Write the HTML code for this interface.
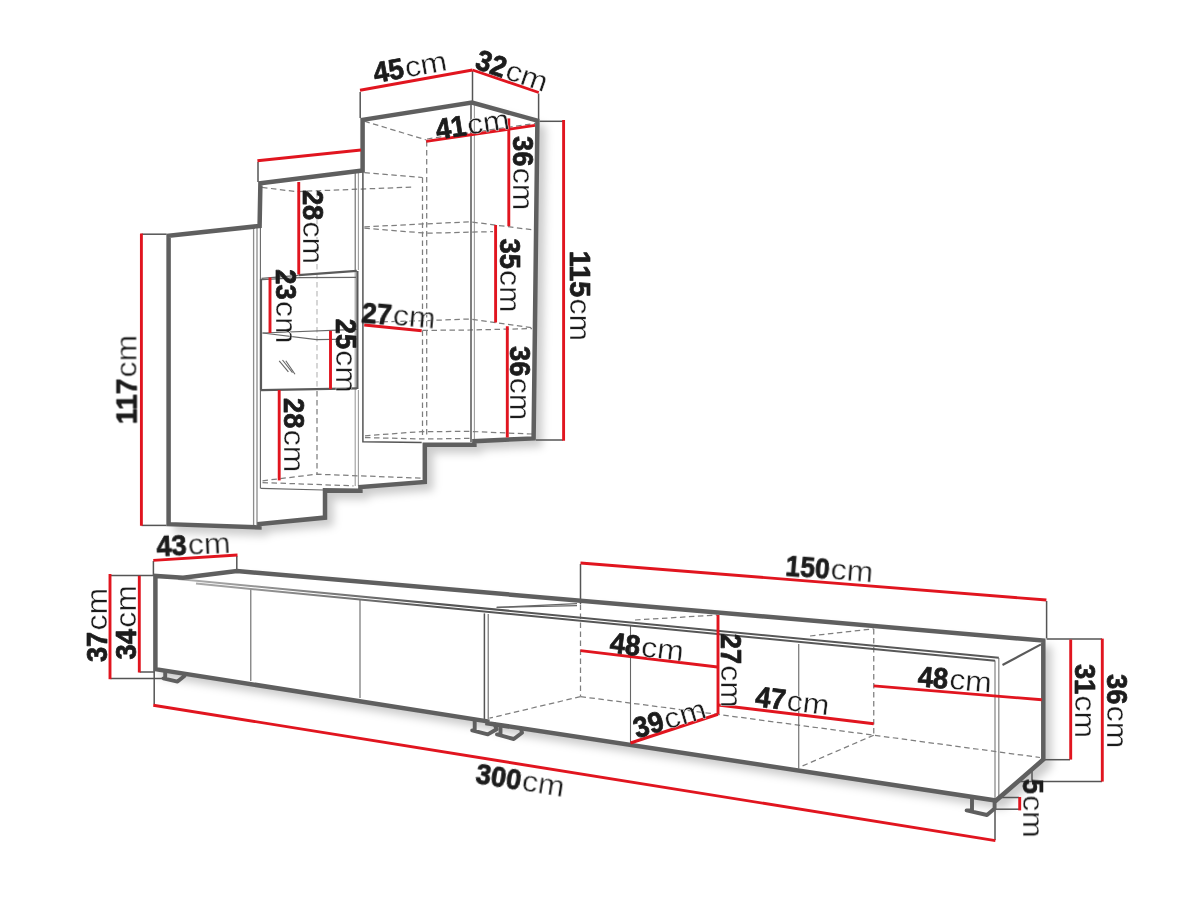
<!DOCTYPE html>
<html lang="en">
<head>
<meta charset="utf-8">
<title>Wall unit dimensions</title>
<style>
html,body{margin:0;padding:0;background:#fff;}
body{width:1200px;height:899px;overflow:hidden;}
svg{display:block;}
text{font-family:"Liberation Sans",sans-serif;fill:#1c1c1c;}
.text{filter:grayscale(1);}
.n{font-weight:bold;stroke:#1c1c1c;stroke-width:0.75;stroke-linejoin:round;}
.u{font-weight:normal;stroke:#fff;stroke-width:0.35;}
path{fill:none;}
.shadow{filter:url(#ds);}
.shadow .sh{fill:#fff;stroke:#fff;stroke-width:3;}
.shadow .ft{fill:#fff;stroke:#fff;stroke-width:3;}
.thick path{stroke:#5f5f5f;stroke-width:4.5;stroke-linejoin:miter;}
.mid path{stroke:#5f5f5f;stroke-width:3.9;stroke-linejoin:round;stroke-linecap:round;fill:none;}
.thin path{stroke:#666666;stroke-width:1.1;}
.tick path{stroke:#555;stroke-width:1.5;}
.med path{stroke:#8c8c8c;stroke-width:1.3;}
.door path{stroke:#5a5a5a;stroke-width:2.2;}
.edge path{stroke:url(#eg);stroke-width:2;}
.light path{stroke:#9c9c9c;stroke-width:1.1;}
.dash path{stroke:#7e7e7e;stroke-width:1.25;stroke-dasharray:5.5 3.5;}
.ldash path{stroke:#b4b4b4;stroke-width:1.1;stroke-dasharray:5.5 3.5;}
.red path{stroke:#e1151f;stroke-width:2.9;}
</style>
</head>
<body>
<svg width="1200" height="899" viewBox="0 0 1200 899">
<defs>
<filter id="ds" filterUnits="userSpaceOnUse" x="0" y="0" width="1200" height="899" color-interpolation-filters="sRGB">
<feGaussianBlur in="SourceAlpha" stdDeviation="4.5"/>
<feOffset dx="6.5" dy="6.5" result="b"/>
<feFlood flood-color="#000" flood-opacity="0.2"/>
<feComposite in2="b" operator="in"/>
<feMerge><feMergeNode/><feMergeNode in="SourceGraphic"/></feMerge>
</filter>
<linearGradient id="eg" gradientUnits="userSpaceOnUse" x1="178" y1="0" x2="1000" y2="0">
<stop offset="0" stop-color="#b0b0b0"/><stop offset="0.18" stop-color="#7c7c7c"/><stop offset="0.32" stop-color="#555"/><stop offset="1" stop-color="#585858"/>
</linearGradient>
</defs>
<rect width="1200" height="899" fill="#fff"/>
<g class="shadow">
<path class="sh" d="M168.6 524.2 L168.6 235.8 L259.6 226 L260.4 183.2 L362.6 170.6 L362.6 119.8 L472 102.6 L537.4 120.6 L533.6 438.4 L474.4 441.2 L474.4 444.8 L424.8 444.8 L424.8 482 L360.4 487 L360.4 490.8 L325 490.4 L325 517.6 L259.4 524 L259.4 527.4 Z"/>
<path class="sh" d="M155.4 669.1 L155.4 576 L183 577.8 L237 571 L1043.3 640.6 L1043.3 759.5 L996 800.5 L487.4 723.2 L487.4 721.4 Z"/>
</g>
<g class="light">
<path d="M358.4 172 L358.4 270"/>
<path d="M355.2 270 L355.2 486"/>
<path d="M358.4 390 L358.4 486"/>
<path d="M474.4 104 L474.4 442"/>
</g>
<g class="med">
<path d="M253.6 227.5 L253.6 525"/>
<path d="M257 227.5 L257 525"/>
<path d="M998.8 658 L998.8 799"/>
<path d="M995 660.6 L995 799"/>
</g>
<g class="dash">
<path d="M262 187.4 L296 191.6 L414 187"/>
<path d="M317 391 L317 474"/>
<path d="M262.5 480.8 L316.7 474.2 L421.7 478.2"/>
<path d="M262.5 482.6 L353.5 485.8"/>
<path d="M364.4 121.2 L426.4 140"/>
<path d="M427 139 L535 123.4"/>
<path d="M426.7 141 L426.7 438"/>
<path d="M422.5 177.5 L422.5 438"/>
<path d="M364.4 172.6 L422.5 177.5"/>
<path d="M364.4 226.8 L470 221.8 L534 230"/>
<path d="M364.4 228.2 L426.7 233.2 L493 231.6"/>
<path d="M364.4 322.4 L426 320.6 L470 319 L534 328"/>
<path d="M422.5 330.4 L470 330 L532 328.6"/>
<path d="M365 435.8 L421.7 431.6 L470 431.4 L532 434"/>
<path d="M365 437.6 L426 439 L470 438.4"/>
<path d="M580.5 604.5 L580.5 696.5"/>
<path d="M580.5 696.6 L489.4 718.2"/>
<path d="M580.5 696.6 L718 714.4 L873.75 735.2 L1040 757.5"/>
<path d="M635 620 L717.5 615"/>
<path d="M810 636 L873.75 628.75"/>
<path d="M873.75 629 L873.75 735"/>
<path d="M873.75 735.2 L800 767"/>
</g>
<g class="ldash">
<path d="M317 192 L317 390"/>
</g>
<g class="thin">
<path d="M260.4 226 L260.4 488.5"/>
<path d="M355.2 172 L355.2 270"/>
<path d="M261.5 278.4 L298.5 275.4"/>
<path d="M262 279.6 L300 277.6 L356 277.4"/>
<path d="M262.5 333 L357 329.4"/>
<path d="M262.5 333 L316.7 339.6 L357 339"/>
<path d="M260.8 488.4 L323.5 490"/>
<path d="M279.2 360.8 L288.4 371.8"/>
<path d="M282.5 360 L292.5 372.6"/>
<path d="M285.8 360.8 L295 374.2"/>
<path d="M250.8 589 L250.8 681"/>
<path d="M360 600 L360 698"/>
<path d="M488.2 614 L488.2 719"/>
<path d="M630.5 626 L630.5 743"/>
<path d="M798.75 644 L798.75 768.5"/>
<path d="M496.7 607.4 L577 603.6"/>
<path d="M496.7 607.4 L577 605.6"/>
</g>
<g class="edge">
<path d="M178 579 L998.8 657.8"/>
<path d="M196 583.6 L995 660.8"/>
</g>
<g class="tick">
<path d="M362.9 171 L362.9 441.8 L421.7 442.6"/>
<path d="M471 104 L471 442"/>
<path d="M360.2 92 L360.2 118"/>
<path d="M472.5 71 L472.5 101"/>
<path d="M538.6 93.5 L538.6 119"/>
<path d="M258 162 L258 182"/>
<path d="M141.5 234.2 L166.5 234.2"/>
<path d="M141.5 525.4 L166.5 525.4"/>
<path d="M539.5 121.3 L563 121.3"/>
<path d="M536 440 L563 440"/>
<path d="M484.4 613.4 L484.4 719"/>
<path d="M153.4 561 L153.4 575"/>
<path d="M236.8 556 L236.8 570"/>
<path d="M110.5 575.4 L154 575.4"/>
<path d="M139.6 672 L154 672"/>
<path d="M110.5 678.4 L162.6 678.4"/>
<path d="M154.2 671 L154.2 704.4"/>
<path d="M580.5 564 L580.5 604"/>
<path d="M1046.6 601 L1046.6 638.4"/>
<path d="M1046.6 639 L1102 639"/>
<path d="M1044 759.7 L1070 759.7"/>
<path d="M1016 781.4 L1102 781.4"/>
<path d="M1032 770 L1032 781"/>
<path d="M999.5 797.5 L1019 797.5"/>
<path d="M995 809.2 L1019 809.2"/>
<path d="M995 803 L995 840"/>
</g>
<g class="door">
<path d="M357.4 271 L357.4 389"/>
<path d="M298.5 275.2 L356.8 270.9"/>
<path d="M260.6 390.2 L357 388.4"/>
<path d="M261 279 L261 390"/>
<path d="M1002.5 665 L1041 644.4"/>
</g>
<g class="mid">
<path d="M165.2 671 L165.2 678.2 L163.4 678.4 L177.5 681.6 L184.4 676 L183.6 674"/>
<path d="M474.7 721 L474.7 730.2 L472.2 730.4 L487.8 734.4 L496.6 729.2 L494.6 724.2"/>
<path d="M500.5 727 L500.5 734.2 L497 734.4 L513.8 739 L522 732.8 L521 728.4"/>
<path d="M972 798 L972 810.2 L966.6 810.4 L987 815 L994.6 808.6 L994.6 801.5"/>
</g>
<g class="thick">
<path d="M168.6 524.2 L168.6 235.8 L259.6 226 L260.4 183.2 L362.6 170.6 L362.6 119.8 L472 102.6 L537.4 120.6 L533.6 438.4 L474.4 441.2 L474.4 444.8 L424.8 444.8 L424.8 482 L360.4 487 L360.4 490.8 L325 490.4 L325 517.6 L259.4 524 L259.4 527.4 Z"/>
<path d="M155.4 669.1 L155.4 576 L183 577.8 L237 571 L1043.3 640.6 L1043.3 759.5 L996 800.5 L487.4 723.2 L487.4 721.4 Z"/>
</g>
<g class="red">
<path d="M360 90.2 L472.5 70"/>
<path d="M472.5 70 L538.75 92.5"/>
<path d="M257.4 160.8 L361 150"/>
<path d="M426.25 141.4 L535 125.4"/>
<path d="M508.8 118.4 L508.8 226.25"/>
<path d="M563.6 120 L563.6 440.8"/>
<path d="M298.75 182 L298.75 274.4"/>
<path d="M270 277.5 L270 333"/>
<path d="M330.5 330.8 L330.5 389.2"/>
<path d="M279.2 390 L279.2 480.4"/>
<path d="M364.2 325 L421.7 330.8"/>
<path d="M495.6 225 L495.6 322.5"/>
<path d="M507.3 326.25 L507.3 437.5"/>
<path d="M141.4 233.4 L141.4 525.8"/>
<path d="M153.3 560.4 L237.5 555"/>
<path d="M110 574 L110 679.2"/>
<path d="M139.3 575.8 L139.3 672.5"/>
<path d="M153.3 705.2 L995.4 840.6"/>
<path d="M580.5 563 L1046.4 600"/>
<path d="M580.5 650.6 L717.5 667"/>
<path d="M718 615 L718 714"/>
<path d="M630.5 743 L718 714.25"/>
<path d="M718 705 L873.75 723.75"/>
<path d="M873.75 685.9 L1041.8 699.8"/>
<path d="M1070.7 639.6 L1070.7 759.6"/>
<path d="M1102.3 638.6 L1102.3 781.6"/>
<path d="M1019.7 797 L1019.7 810.4"/>
</g>
<g class="text">
<text transform="translate(410 66.3) rotate(-10)" x="-37.1" y="10.3"><tspan class="n" font-size="29" textLength="30.4" lengthAdjust="spacingAndGlyphs">45</tspan><tspan class="u" font-size="28.6" dx="1.2" textLength="42.6" lengthAdjust="spacingAndGlyphs">cm</tspan></text>
<text transform="translate(512.2 70.4) rotate(19)" x="-37.1" y="10.3"><tspan class="n" font-size="29" textLength="30.4" lengthAdjust="spacingAndGlyphs">32</tspan><tspan class="u" font-size="28.6" dx="1.2" textLength="42.6" lengthAdjust="spacingAndGlyphs">cm</tspan></text>
<text transform="translate(472.3 123.8) rotate(-8.5)" x="-37.1" y="10.3"><tspan class="n" font-size="29" textLength="30.4" lengthAdjust="spacingAndGlyphs">41</tspan><tspan class="u" font-size="28.6" dx="1.2" textLength="42.6" lengthAdjust="spacingAndGlyphs">cm</tspan></text>
<text transform="translate(523 173.2) rotate(90)" x="-37.1" y="10.3"><tspan class="n" font-size="29" textLength="30.4" lengthAdjust="spacingAndGlyphs">36</tspan><tspan class="u" font-size="28.6" dx="1.2" textLength="42.6" lengthAdjust="spacingAndGlyphs">cm</tspan></text>
<text transform="translate(313 227) rotate(90)" x="-37.1" y="10.3"><tspan class="n" font-size="29" textLength="30.4" lengthAdjust="spacingAndGlyphs">28</tspan><tspan class="u" font-size="28.6" dx="1.2" textLength="42.6" lengthAdjust="spacingAndGlyphs">cm</tspan></text>
<text transform="translate(286.4 306.4) rotate(90)" x="-37.1" y="10.3"><tspan class="n" font-size="29" textLength="30.4" lengthAdjust="spacingAndGlyphs">23</tspan><tspan class="u" font-size="28.6" dx="1.2" textLength="42.6" lengthAdjust="spacingAndGlyphs">cm</tspan></text>
<text transform="translate(346.2 355.8) rotate(90)" x="-37.1" y="10.3"><tspan class="n" font-size="29" textLength="30.4" lengthAdjust="spacingAndGlyphs">25</tspan><tspan class="u" font-size="28.6" dx="1.2" textLength="42.6" lengthAdjust="spacingAndGlyphs">cm</tspan></text>
<text transform="translate(398.6 315.5) rotate(5)" x="-37.1" y="10.3"><tspan class="n" font-size="29" textLength="30.4" lengthAdjust="spacingAndGlyphs">27</tspan><tspan class="u" font-size="28.6" dx="1.2" textLength="42.6" lengthAdjust="spacingAndGlyphs">cm</tspan></text>
<text transform="translate(510.3 275.6) rotate(90)" x="-37.1" y="10.3"><tspan class="n" font-size="29" textLength="30.4" lengthAdjust="spacingAndGlyphs">35</tspan><tspan class="u" font-size="28.6" dx="1.2" textLength="42.6" lengthAdjust="spacingAndGlyphs">cm</tspan></text>
<text transform="translate(520.5 383.2) rotate(90)" x="-37.1" y="10.3"><tspan class="n" font-size="29" textLength="30.4" lengthAdjust="spacingAndGlyphs">36</tspan><tspan class="u" font-size="28.6" dx="1.2" textLength="42.6" lengthAdjust="spacingAndGlyphs">cm</tspan></text>
<text transform="translate(580 296) rotate(90)" x="-45.15" y="10.3"><tspan class="n" font-size="29" textLength="46.5" lengthAdjust="spacingAndGlyphs">115</tspan><tspan class="u" font-size="28.6" dx="1.2" textLength="42.6" lengthAdjust="spacingAndGlyphs">cm</tspan></text>
<text transform="translate(126.5 379.5) rotate(-90)" x="-44.7" y="10.3"><tspan class="n" font-size="29" textLength="45.6" lengthAdjust="spacingAndGlyphs">117</tspan><tspan class="u" font-size="28.6" dx="1.2" textLength="42.6" lengthAdjust="spacingAndGlyphs">cm</tspan></text>
<text transform="translate(294.8 435.2) rotate(90)" x="-37.1" y="10.3"><tspan class="n" font-size="29" textLength="30.4" lengthAdjust="spacingAndGlyphs">28</tspan><tspan class="u" font-size="28.6" dx="1.2" textLength="42.6" lengthAdjust="spacingAndGlyphs">cm</tspan></text>
<text transform="translate(193.4 544.6) rotate(-2.5)" x="-37.1" y="10.3"><tspan class="n" font-size="29" textLength="30.4" lengthAdjust="spacingAndGlyphs">43</tspan><tspan class="u" font-size="28.6" dx="1.2" textLength="42.6" lengthAdjust="spacingAndGlyphs">cm</tspan></text>
<text transform="translate(96.2 625) rotate(-90)" x="-37.1" y="10.3"><tspan class="n" font-size="29" textLength="30.4" lengthAdjust="spacingAndGlyphs">37</tspan><tspan class="u" font-size="28.6" dx="1.2" textLength="42.6" lengthAdjust="spacingAndGlyphs">cm</tspan></text>
<text transform="translate(125.8 622.3) rotate(-90)" x="-37.1" y="10.3"><tspan class="n" font-size="29" textLength="30.4" lengthAdjust="spacingAndGlyphs">34</tspan><tspan class="u" font-size="28.6" dx="1.2" textLength="42.6" lengthAdjust="spacingAndGlyphs">cm</tspan></text>
<text transform="translate(829.6 569) rotate(4.6)" x="-43.95" y="10.3"><tspan class="n" font-size="29" textLength="44.1" lengthAdjust="spacingAndGlyphs">150</tspan><tspan class="u" font-size="28.6" dx="1.2" textLength="42.6" lengthAdjust="spacingAndGlyphs">cm</tspan></text>
<text transform="translate(647 646.6) rotate(7)" x="-37.1" y="10.3"><tspan class="n" font-size="29" textLength="30.4" lengthAdjust="spacingAndGlyphs">48</tspan><tspan class="u" font-size="28.6" dx="1.2" textLength="42.6" lengthAdjust="spacingAndGlyphs">cm</tspan></text>
<text transform="translate(731 670.8) rotate(90)" x="-37.1" y="10.3"><tspan class="n" font-size="29" textLength="30.4" lengthAdjust="spacingAndGlyphs">27</tspan><tspan class="u" font-size="28.6" dx="1.2" textLength="42.6" lengthAdjust="spacingAndGlyphs">cm</tspan></text>
<text transform="translate(669.4 718) rotate(-16.5)" x="-37.1" y="10.3"><tspan class="n" font-size="29" textLength="30.4" lengthAdjust="spacingAndGlyphs">39</tspan><tspan class="u" font-size="28.6" dx="1.2" textLength="42.6" lengthAdjust="spacingAndGlyphs">cm</tspan></text>
<text transform="translate(792.5 700.5) rotate(7)" x="-37.1" y="10.3"><tspan class="n" font-size="29" textLength="30.4" lengthAdjust="spacingAndGlyphs">47</tspan><tspan class="u" font-size="28.6" dx="1.2" textLength="42.6" lengthAdjust="spacingAndGlyphs">cm</tspan></text>
<text transform="translate(955 679) rotate(4.7)" x="-37.1" y="10.3"><tspan class="n" font-size="29" textLength="30.4" lengthAdjust="spacingAndGlyphs">48</tspan><tspan class="u" font-size="28.6" dx="1.2" textLength="42.6" lengthAdjust="spacingAndGlyphs">cm</tspan></text>
<text transform="translate(1085 701) rotate(90)" x="-37.1" y="10.3"><tspan class="n" font-size="29" textLength="30.4" lengthAdjust="spacingAndGlyphs">31</tspan><tspan class="u" font-size="28.6" dx="1.2" textLength="42.6" lengthAdjust="spacingAndGlyphs">cm</tspan></text>
<text transform="translate(1117.5 711.2) rotate(90)" x="-37.1" y="10.3"><tspan class="n" font-size="29" textLength="30.4" lengthAdjust="spacingAndGlyphs">36</tspan><tspan class="u" font-size="28.6" dx="1.2" textLength="42.6" lengthAdjust="spacingAndGlyphs">cm</tspan></text>
<text transform="translate(1033 808.4) rotate(90)" x="-29.4" y="10.3"><tspan class="n" font-size="29" textLength="15" lengthAdjust="spacingAndGlyphs">5</tspan><tspan class="u" font-size="28.6" dx="1.2" textLength="42.6" lengthAdjust="spacingAndGlyphs">cm</tspan></text>
<text transform="translate(520.4 780.2) rotate(9)" x="-44.7" y="10.3"><tspan class="n" font-size="29" textLength="45.6" lengthAdjust="spacingAndGlyphs">300</tspan><tspan class="u" font-size="28.6" dx="1.2" textLength="42.6" lengthAdjust="spacingAndGlyphs">cm</tspan></text>
</g>
</svg>
</body>
</html>
